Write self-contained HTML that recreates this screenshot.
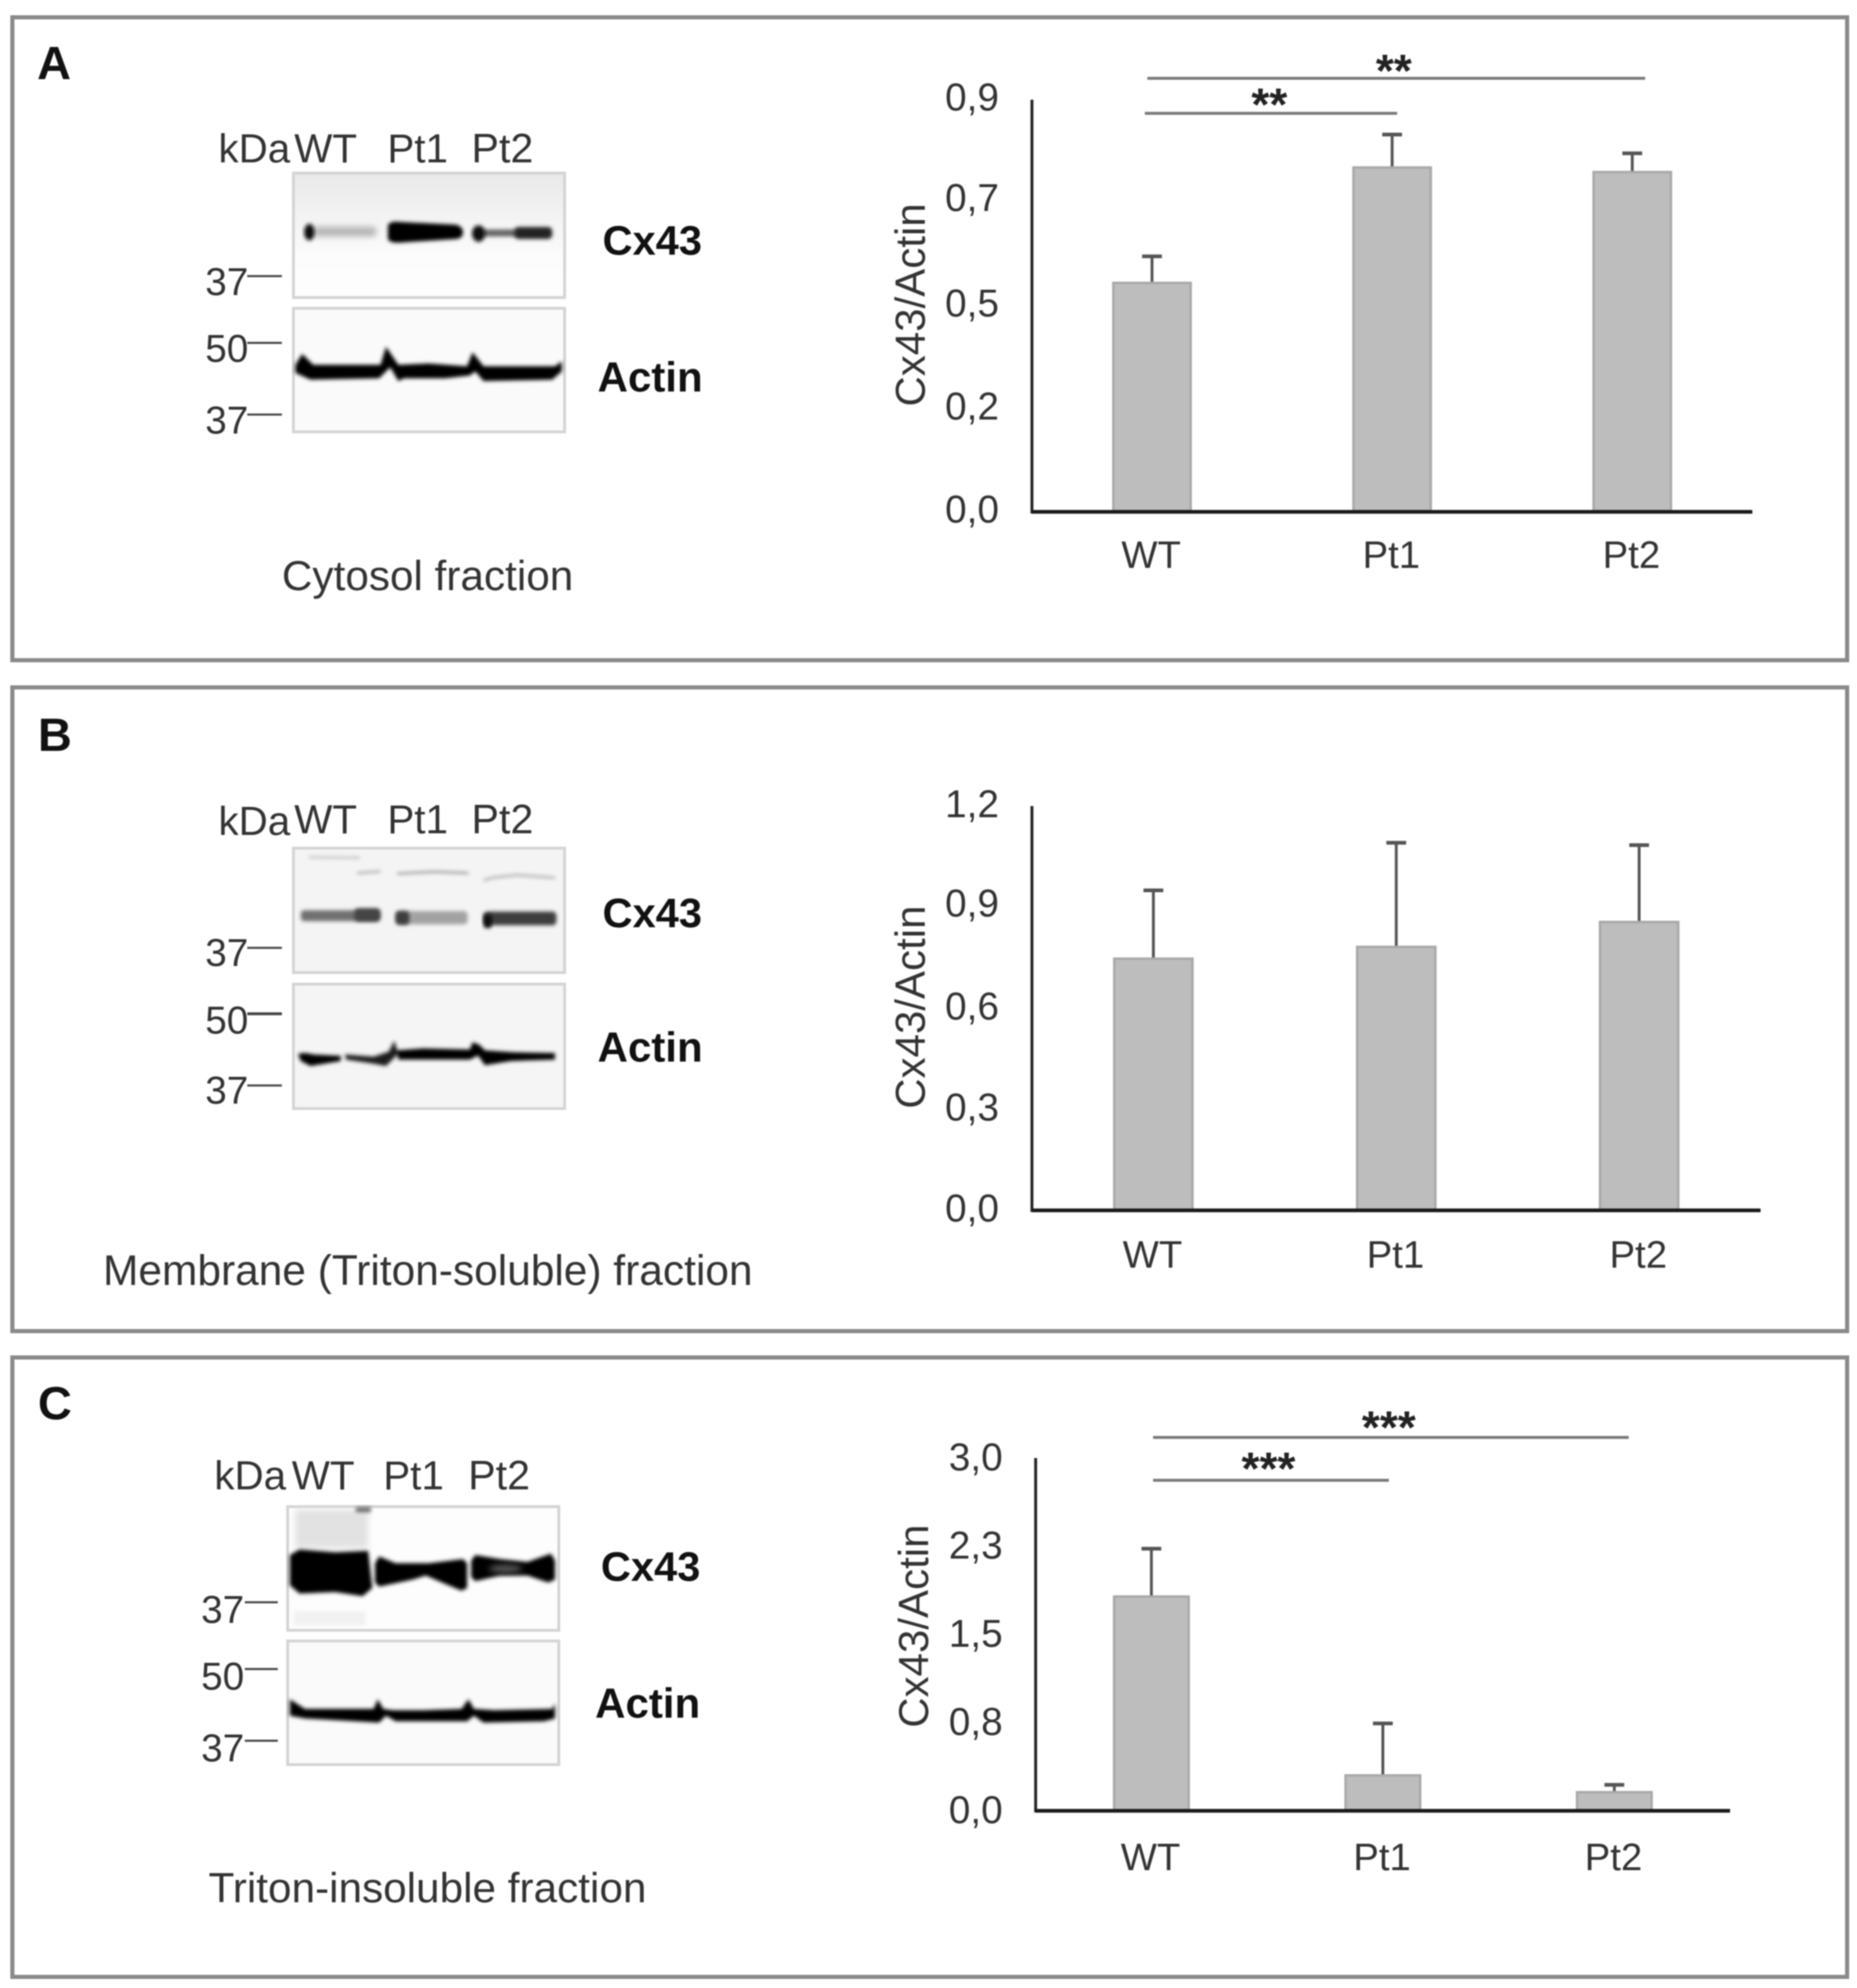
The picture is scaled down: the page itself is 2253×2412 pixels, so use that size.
<!DOCTYPE html>
<html lang="en">
<head>
<meta charset="utf-8">
<title>Cx43 western blots and quantification by cell fraction</title>
<style>
html,body{margin:0;padding:0;background:#fff;width:2253px;height:2412px;overflow:hidden}
svg{display:block;filter:blur(0.9px)}
text{font-family:"Liberation Sans",sans-serif;fill:#333}
.b{font-weight:bold;fill:#111}
.panel{fill:#fff;stroke:#8a8a8a;stroke-width:5}
.blot{fill:#fafafa;stroke:#d4d4d4;stroke-width:3.5}
.mw{stroke:#444;stroke-width:2.5}
.sig{stroke:#777;stroke-width:3.5}
.star{font-weight:bold;font-size:56px;fill:#222}
</style>
</head>
<body>
<svg id="figure" xmlns="http://www.w3.org/2000/svg" width="2253" height="2412" viewBox="0 0 2253 2412">
<defs>
<filter id="s5" x="-20%" y="-60%" width="140%" height="220%"><feGaussianBlur stdDeviation="7"/></filter>
<filter id="s10" x="-30%" y="-60%" width="160%" height="220%"><feGaussianBlur stdDeviation="11"/></filter>
<linearGradient id="blotTopA" x1="0" y1="0" x2="0" y2="1"><stop offset="0" stop-color="#e9e9e9"/><stop offset="0.4" stop-color="#f4f4f4"/><stop offset="0.7" stop-color="#fcfcfc"/><stop offset="1" stop-color="#fdfdfd"/></linearGradient>
</defs>
<rect width="2253" height="2412" fill="#fff"/>

<!-- PANEL A -->
<g>
<rect class="panel" x="15" y="21" width="2226" height="780"/>
<text class="b" x="45" y="96" font-size="57">A</text>
<g font-size="49">
<text x="265" y="197">kDa</text>
<text x="357" y="197">WT</text>
<text x="470" y="197">Pt1</text>
<text x="572" y="197" style="font-size:50px">Pt2</text>
<rect class="blot" x="356" y="210" width="329" height="151" style="fill:url(#blotTopA)"/>
<rect class="blot" x="356" y="374" width="329" height="150"/>
<g transform="translate(340 150) scale(0.33333)">
<g>
<rect x="120" y="375" width="230" height="36" rx="14" fill="#b5b5b5" filter="url(#s10)"/>
<ellipse cx="106" cy="395" rx="19" ry="30" fill="#111" filter="url(#s5)"/>
<path d="M392 370 Q400 352 440 358 L640 368 Q665 375 665 395 Q665 418 640 420 L450 432 Q400 438 392 420 Z" fill="#020202" filter="url(#s5)"/>
<rect x="735" y="385" width="130" height="26" rx="10" fill="#666" filter="url(#s5)"/>
<ellipse cx="722" cy="400" rx="24" ry="30" fill="#0a0a0a" filter="url(#s5)"/>
<rect x="852" y="376" width="138" height="44" rx="16" fill="#222" filter="url(#s5)"/>
</g>
<path fill="#020202" filter="url(#s5)" d="M55 878 L80 838 L120 878 L365 878 L385 812 L430 878 L540 873 L680 883 L700 832 L740 883 L1000 883 L1025 865 L1025 902 L990 932 L740 937 L710 902 L690 917 L600 927 L450 927 L430 937 L400 887 L360 927 L110 932 L55 907 Z"/>
</g>
<text x="249" y="358" font-size="47">37</text>
<line class="mw" x1="300" y1="335" x2="342" y2="335"/>
<text x="249" y="439" font-size="47">50</text>
<line class="mw" x1="300" y1="416" x2="342" y2="416"/>
<text x="249" y="526" font-size="47">37</text>
<line class="mw" x1="300" y1="503" x2="342" y2="503"/>
<text class="b" x="731" y="309" font-size="50.5">Cx43</text>
<text class="b" x="725" y="475" font-size="51">Actin</text>
<text x="342" y="716" font-size="51.3">Cytosol fraction</text>
</g>
<g id="chart-a"></g>
<g>
<line class="sig" x1="1392" y1="95" x2="1996" y2="95"/>
<line class="sig" x1="1389" y1="137.5" x2="1695" y2="137.5"/>
<text class="star" x="1691" y="105" text-anchor="middle">**</text>
<text class="star" x="1540" y="146" text-anchor="middle">**</text>
</g>
</g>

<!-- PANEL B -->
<g>
<rect class="panel" x="15" y="834" width="2226" height="781"/>
<text class="b" x="46" y="911" font-size="57">B</text>
<g font-size="49">
<text x="265" y="1013">kDa</text>
<text x="357" y="1011">WT</text>
<text x="470" y="1011">Pt1</text>
<text x="572" y="1011" style="font-size:50px">Pt2</text>
<rect class="blot" x="356" y="1029" width="329" height="151" style="fill:#f4f4f4"/>
<rect class="blot" x="356" y="1194" width="329" height="151" style="fill:#f5f5f5"/>
<g transform="translate(340 970) scale(0.33333)">
<g fill="none" stroke-width="7" filter="url(#s5)">
<path d="M105 210 L290 212" stroke="#b8b8b8"/>
<path d="M280 268 L365 262" stroke="#a0a0a0"/>
<path d="M425 270 L560 263 L685 268" stroke="#8c8c8c"/>
<path d="M740 295 L770 285 L860 275 L1000 285" stroke="#a0a0a0"/>
</g>
<g>
<rect x="75" y="403" width="285" height="40" rx="12" fill="#707070" filter="url(#s5)"/>
<rect x="270" y="396" width="95" height="48" rx="14" fill="#444" filter="url(#s5)"/>
<rect x="420" y="406" width="262" height="48" rx="14" fill="#a2a2a2" filter="url(#s5)"/>
<rect x="420" y="406" width="50" height="50" rx="14" fill="#3e3e3e" filter="url(#s5)"/>
<rect x="740" y="408" width="265" height="50" rx="14" fill="#3c3c3c" filter="url(#s5)"/>
<rect x="740" y="418" width="30" height="50" rx="12" fill="#0c0c0c" filter="url(#s5)"/>
</g>
<g filter="url(#s5)">
<path fill="#020202" d="M65 928 Q80 918 120 928 L220 933 L220 952 L110 970 L75 952 Z"/>
<path fill="#1c1c1c" d="M235 928 L340 936 L395 918 L415 878 L430 925 L385 970 L340 962 L240 947 Z"/>
<path fill="#020202" d="M425 913 L520 906 L690 910 L700 883 L725 893 L745 913 L850 920 L1000 923 L1000 947 L840 952 L745 967 L720 932 L690 947 L430 947 Z"/>
</g>
</g>
<text x="249" y="1172" font-size="47">37</text>
<line class="mw" x1="300" y1="1150" x2="342" y2="1150"/>
<text x="249" y="1254" font-size="47">50</text>
<line class="mw" x1="300" y1="1230" x2="342" y2="1230" style="stroke-width:3.5"/>
<text x="249" y="1339" font-size="47">37</text>
<line class="mw" x1="300" y1="1317" x2="342" y2="1317"/>
<text class="b" x="731" y="1125" font-size="50.5">Cx43</text>
<text class="b" x="725" y="1288" font-size="51">Actin</text>
<text x="125" y="1559" font-size="51.5">Membrane (Triton-soluble) fraction</text>
</g>
<g id="chart-b"></g>
</g>

<!-- PANEL C -->
<g>
<rect class="panel" x="15" y="1647" width="2226" height="751.5"/>
<text class="b" x="46" y="1722" font-size="57">C</text>
<g font-size="49">
<text x="260" y="1807">kDa</text>
<text x="354" y="1807">WT</text>
<text x="465" y="1807">Pt1</text>
<text x="568" y="1807" style="font-size:50px">Pt2</text>
<rect class="blot" x="349" y="1828" width="329" height="150" style="fill:#fdfdfd"/>
<rect class="blot" x="349" y="1991" width="329" height="150"/>
<g transform="translate(340 1780) scale(0.33333)">
<rect x="55" y="155" width="265" height="140" fill="#e2e2e2" filter="url(#s10)"/>
<rect x="275" y="146" width="55" height="18" fill="#666" filter="url(#s5)"/>
<rect x="50" y="525" width="260" height="50" fill="#f1f1f1" filter="url(#s5)"/>
<g filter="url(#s5)">
<path fill="#020202" d="M35 320 L70 300 L200 310 L320 305 L335 440 L300 470 L200 455 L70 460 L35 430 Z"/>
<path fill="#050505" d="M345 350 L360 325 L420 350 L540 350 L665 335 L680 350 L680 440 L660 450 L600 425 L530 395 L480 410 L360 435 L345 420 Z"/>
<path fill="#060606" d="M695 340 L710 320 L800 335 L900 345 L985 315 L1000 340 L1000 410 L975 420 L900 395 L800 395 L710 415 L695 400 Z"/>
</g>
<ellipse cx="820" cy="370" rx="60" ry="15" fill="#585858" filter="url(#s10)"/>
<path fill="#020202" filter="url(#s5)" d="M35 845 L90 880 L340 880 L355 845 L375 880 L410 885 L520 885 L660 880 L685 845 L705 880 L780 885 L990 880 L1000 860 L1000 915 L960 925 L740 930 L705 905 L680 925 L420 925 L385 905 L360 930 L90 915 L35 905 Z"/>
</g>
<text x="244" y="1969" font-size="47">37</text>
<line class="mw" x1="297" y1="1944" x2="337" y2="1944"/>
<text x="244" y="2050" font-size="47">50</text>
<line class="mw" x1="297" y1="2025" x2="337" y2="2025"/>
<text x="244" y="2137" font-size="47">37</text>
<line class="mw" x1="297" y1="2112" x2="337" y2="2112"/>
<text class="b" x="729" y="1918" font-size="50.5">Cx43</text>
<text class="b" x="722" y="2084" font-size="51">Actin</text>
<text x="253" y="2308" font-size="51.3">Triton-insoluble fraction</text>
</g>
<g id="chart-c"></g>
<g>
<line class="sig" x1="1399" y1="1744" x2="1976" y2="1744"/>
<line class="sig" x1="1399" y1="1796" x2="1685" y2="1796"/>
<text class="star" x="1685" y="1751" text-anchor="middle">***</text>
<text class="star" x="1539" y="1801" text-anchor="middle">***</text>
</g>
</g>
</svg>

<script>
const categories = ['WT', 'Pt1', 'Pt2'];

const meansA = [0.50, 0.752, 0.742];
const errorTopsA = [0.558, 0.824, 0.783];
const tickValuesA = [0, 0.225, 0.45, 0.68, 0.9];
const tickLabelsA = ['0,0', '0,2', '0,5', '0,7', '0,9'];

const meansB = [0.747, 0.782, 0.856];
const errorTopsB = [0.95, 1.091, 1.084];
const tickValuesB = [0, 0.3, 0.6, 0.905, 1.2];
const tickLabelsB = ['0,0', '0,3', '0,6', '0,9', '1,2'];

const meansC = [1.822, 0.301, 0.158];
const errorTopsC = [2.229, 0.743, 0.221];
const tickValuesC = [0, 0.75, 1.5, 2.25, 3];
const tickLabelsC = ['0,0', '0,8', '1,5', '2,3', '3,0'];

const NS = 'http://www.w3.org/2000/svg';

function make(parent, tag, attrs, content) {
  const node = document.createElementNS(NS, tag);
  for (const k in attrs) node.setAttribute(k, attrs[k]);
  if (content !== undefined) node.textContent = content;
  parent.appendChild(node);
  return node;
}

function drawChart(id, cats, means, errorTops, tickValues, tickLabels, box) {
  const g = document.getElementById(id);
  const bandW = (box.right - box.left) / cats.length;
  const xScale = i => box.left + bandW * (i + 0.5);
  const yScale = v => box.bottom - (v / box.max) * (box.bottom - box.top);
  const barW = bandW * 0.322;

  means.forEach((m, i) => {
    const cx = xScale(i);
    const errLine = make(g, 'line', {x1: cx, x2: cx, y1: yScale(errorTops[i]), y2: yScale(m), stroke: '#555', 'stroke-width': 3.5});
    
    
    const cap = make(g, 'line', {x1: cx - 12, x2: cx + 12, y1: yScale(errorTops[i]), y2: yScale(errorTops[i]), stroke: '#555', 'stroke-width': 4.5});
    
    
    const bar = make(g, 'rect', {x: cx - barW / 2, y: yScale(m), width: barW, height: box.bottom - yScale(m), fill: '#bdbdbd', stroke: '#a9a9a9', 'stroke-width': 3});
    
    
    const label = make(g, 'text', {x: cx - 1, y: box.catY, 'text-anchor': 'middle', 'font-size': 46.5}, cats[i]);
    
    
  });

  tickValues.forEach((v, i) => {
    const t = make(g, 'text', {x: box.left - 40, y: yScale(v) + box.tickDy, 'text-anchor': 'end', 'font-size': 47}, tickLabels[i]);
    
    
  });

  const yAxis = make(g, 'line', {x1: box.left, x2: box.left, y1: box.top, y2: box.bottom + 2, stroke: '#222', 'stroke-width': 3.5});
  
  
  const xAxis = make(g, 'line', {x1: box.left, x2: box.right, y1: box.bottom, y2: box.bottom, stroke: '#1a1a1a', 'stroke-width': 4.5});
  
  
  const title = make(g, 'text', {transform: 'translate(' + box.titleX + ',' + box.titleY + ') rotate(-90)', 'text-anchor': 'middle', 'font-size': 51}, 'Cx43/Actin');
  
  
}

drawChart('chart-a', categories, meansA, errorTopsA, tickValuesA, tickLabelsA,
  {left: 1252, right: 2126, top: 121, bottom: 621, max: 0.9, catY: 689, titleX: 1122, titleY: 370, tickDy: 13});
drawChart('chart-b', categories, meansB, errorTopsB, tickValuesB, tickLabelsB,
  {left: 1252, right: 2136, top: 978, bottom: 1468.5, max: 1.2, catY: 1538, titleX: 1122, titleY: 1222, tickDy: 13.5});
drawChart('chart-c', categories, meansC, errorTopsC, tickValuesC, tickLabelsC,
  {left: 1256.5, right: 2099, top: 1769, bottom: 2197, max: 3, catY: 2269, titleX: 1126, titleY: 1973, tickDy: 15});
</script>
</body>
</html>
